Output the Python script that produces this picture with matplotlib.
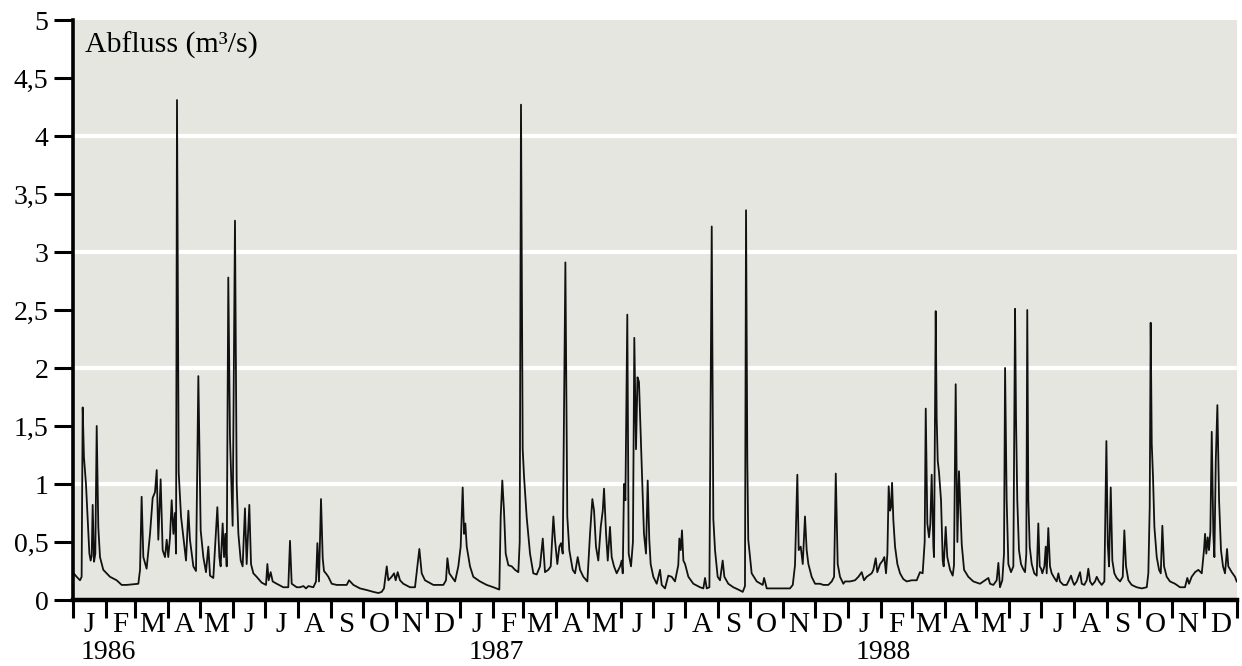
import numpy as np
import pandas as pd
import matplotlib
matplotlib.use("Agg")
import matplotlib.pyplot as plt

# ---------------- data (day index since 1 Jan 1986, discharge m3/s) ----------------
days_1986 = [0, 3.7, 6.9, 8.4, 9.4, 10.6, 12.5, 14.1, 15.7, 16.9, 17.9, 18.8, 20.1, 21.3, 22.6, 24.1,
             25.7, 28.8, 35.1, 41.4, 46.1, 50.8, 61.8, 63.4, 64.9, 66.5, 69.6, 72.8, 75.3, 77.5, 79.1,
             80.6, 82.8, 84.7, 86.9, 88.5, 90.0, 91.6, 93.2, 94.8, 96.3, 97.3, 98.2, 99.8, 102.0, 104.2,
             106.7, 108.9, 110.4, 113.6, 116.1, 118.3, 120.5, 123.0, 125.5, 127.7, 129.3, 132.4, 136.2,
             138.1, 139.3, 141.2, 142.5, 143.7, 145.0, 146.5, 148.1, 150.6, 152.8, 154.4, 156.0, 158.2,
             160.0, 162.2, 163.8, 166.3, 167.9, 170.1, 173.2, 177.9, 182.0, 183.3, 184.5, 186.4, 188.3,
             192.1, 198.3, 203.0, 204.6, 206.2, 210.9, 214.0, 217.2, 219.7, 221.9, 226.6, 229.1, 230.4,
             231.9, 233.8, 235.4, 236.6, 239.2, 240.7, 243.9, 248.6, 258.0, 260.2, 264.3, 270.5, 276.8,
             283.1, 287.8, 290.9, 293.1, 295.7, 297.2, 300.3, 302.6, 304.1, 306.0, 308.2, 311.3, 317.6,
             322.3, 324.5, 326.4, 328.6, 331.7, 339.6, 349.0, 351.5, 352.8, 354.6, 356.9, 360.0, 363.1]
flow_1986 = [0.24, 0.20, 0.17, 0.20, 1.66, 1.23, 1.00, 0.70, 0.40, 0.34, 0.38, 0.82, 0.33, 0.40, 1.50, 0.63,
             0.37, 0.26, 0.20, 0.17, 0.13, 0.13, 0.14, 0.26, 0.89, 0.37, 0.27, 0.57, 0.88, 0.93, 1.12,
             0.52, 1.04, 0.43, 0.37, 0.52, 0.37, 0.54, 0.86, 0.57, 0.75, 0.40, 4.31, 1.10, 0.72, 0.54,
             0.34, 0.77, 0.52, 0.29, 0.25, 1.93, 0.60, 0.37, 0.24, 0.46, 0.21, 0.19, 0.80,
             0.37, 0.29, 0.66, 0.37, 0.57, 0.29, 2.78, 1.40, 0.64, 3.27, 1.00, 0.57, 0.34,
             0.29, 0.79, 0.31, 0.82, 0.31, 0.23, 0.20, 0.15, 0.13, 0.31, 0.17, 0.24, 0.16,
             0.14, 0.11, 0.11, 0.51, 0.14, 0.11, 0.11, 0.12, 0.10, 0.12, 0.11, 0.16, 0.49,
             0.16, 0.87, 0.36, 0.25, 0.22, 0.20, 0.14, 0.13, 0.13, 0.17, 0.13, 0.10, 0.086,
             0.07, 0.06, 0.07, 0.10, 0.29, 0.17, 0.20, 0.23, 0.17, 0.24, 0.17, 0.14, 0.11,
             0.11, 0.29, 0.44, 0.23, 0.17, 0.13, 0.13, 0.17, 0.36, 0.23, 0.20, 0.16, 0.29]

days_1987 = [364.1, 365.3, 367.2, 368.5, 369.7, 371.0, 374.1, 377.2, 383.5, 389.8, 396.1, 401.7, 403.0,
             404.5, 406.1, 407.7, 410.2, 413.4, 416.5, 419.6, 420.9, 422.1, 423.7, 425.0, 427.5, 430.6,
             433.7, 436.9, 440.0, 442.6, 444.7, 447.8, 450.1, 452.6, 454.1, 456.3, 458.2, 459.8, 461.4,
             463.9, 465.7, 467.6, 470.8, 473.0, 475.5, 477.7, 480.8, 484.6, 487.1, 489.3, 490.9, 492.7,
             494.9, 497.2, 499.1, 500.3, 502.2, 503.8, 505.9, 507.5, 509.7, 512.2, 515.4, 516.9, 517.9,
             519.1, 520.4, 522.2, 523.5, 525.7, 527.5, 528.8, 530.4, 531.8, 533.2, 534.5, 535.8, 537.9,
             539.8, 541.4, 542.9, 544.2, 546.7, 549.9, 553.0, 554.6, 557.7, 560.8, 564.0, 567.1, 570.2,
             571.2, 572.5, 573.7, 575.0, 576.6, 579.7, 584.4, 590.7, 593.8, 595.4, 597.0, 599.5, 601.7,
             603.2, 604.8, 607.3, 609.5, 612.0, 613.6, 617.3, 622.0, 626.7, 630.9, 633.0, 634.0, 635.2,
             636.1, 639.3, 644.1, 649.7, 651.0, 653.5, 659.7, 669.1, 675.4, 678.0, 680.1, 682.3, 683.6,
             685.5, 687.4, 689.5, 691.1, 692.7, 695.8, 699.0, 703.7, 706.8, 711.5, 714.7, 716.9, 718.5,
             720.3, 722.5, 725.6]
flow_1987 = [0.37, 0.46, 0.97, 0.57, 0.66, 0.46, 0.29, 0.20, 0.16, 0.13, 0.11, 0.09, 0.72,
             1.03, 0.77, 0.40, 0.30, 0.29, 0.26, 0.24, 0.50, 4.27, 1.30, 1.06, 0.71, 0.40,
             0.23, 0.22, 0.29, 0.53, 0.24, 0.26, 0.29, 0.72, 0.52, 0.31, 0.46, 0.49, 0.40,
             2.91, 0.72, 0.43, 0.26, 0.23, 0.37, 0.26, 0.20, 0.16, 0.57, 0.87, 0.77, 0.46,
             0.34, 0.63, 0.77, 0.96, 0.57, 0.34, 0.63, 0.37, 0.29, 0.23, 0.29, 0.34, 0.23,
             1.00, 0.86, 2.46, 0.40, 0.29, 0.50, 2.26, 1.30, 1.92, 1.88, 1.50, 1.15, 0.57,
             0.40, 1.03, 0.52, 0.31, 0.20, 0.14, 0.26, 0.13, 0.10, 0.21, 0.20, 0.16, 0.30,
             0.53, 0.43, 0.60, 0.34, 0.31, 0.20, 0.14, 0.11, 0.10, 0.19, 0.10, 0.11, 3.22,
             0.70, 0.43, 0.20, 0.17, 0.34, 0.20, 0.14, 0.11, 0.09, 0.07, 0.12, 3.36, 1.20,
             0.52, 0.23, 0.16, 0.13, 0.19, 0.10, 0.10, 0.10, 0.10, 0.13, 0.30, 1.08, 0.43,
             0.46, 0.31, 0.72, 0.43, 0.31, 0.20, 0.14, 0.14, 0.13, 0.13, 0.16, 0.20, 1.09,
             0.31, 0.20, 0.14]

days_1988 = [727.2, 731.9, 736.6, 739.8, 742.9, 745.1, 747.6, 752.3, 753.9, 756.1, 757.6, 760.2, 762.7,
             764.2, 765.8, 767.1, 768.3, 769.6, 770.5, 771.5, 772.7, 774.3, 776.5, 779.0, 782.1, 785.3,
             790.0, 794.7, 797.8, 800.3, 802.2, 803.2, 804.7, 806.3, 807.5, 808.8, 810.4, 811.0, 812.6,
             813.5, 814.5, 815.7, 817.6, 819.2, 820.1, 822.0, 823.5, 826.1, 828.6, 829.8, 831.4, 833.0,
             834.5, 835.5, 837.1, 839.3, 843.3, 848.0, 854.3, 857.5, 862.2, 863.7, 866.9, 870.0, 871.6,
             873.1, 875.3, 876.9, 877.9, 879.4, 881.0, 883.5, 885.7, 887.3, 888.2, 889.4, 891.0, 892.9,
             894.8, 896.7, 897.9, 898.8, 899.8, 901.1, 903.0, 905.4, 907.7, 909.2, 910.5, 911.8, 913.0,
             914.9, 916.2, 917.1, 918.6, 920.2, 921.8, 924.3, 926.5, 928.1, 929.6, 932.8, 935.9, 938.1,
             940.0, 941.6, 943.1, 945.4, 948.5, 950.1, 952.5, 954.8, 956.3, 957.9, 960.0, 962.6, 964.2,
             966.4, 968.9, 971.4, 973.3, 974.6, 975.8, 977.4, 978.9, 980.8, 983.0, 986.2, 988.7, 990.2,
             991.8, 994.0, 997.1, 1001.8, 1006.6, 1011.3, 1012.8, 1014.1, 1015.0, 1016.0, 1017.2, 1018.5,
             1020.7, 1022.9, 1024.5, 1026.0, 1027.6, 1030.1, 1033.2, 1037.9, 1042.6, 1047.3, 1049.5,
             1051.1, 1053.6, 1056.8, 1059.9, 1063.1, 1065.2, 1066.2, 1067.4, 1068.7, 1069.9, 1071.2,
             1072.5, 1074.0, 1075.0, 1076.3, 1077.8, 1079.4, 1081.2, 1083.1, 1085.0, 1086.9, 1088.1,
             1091.3, 1094.4, 1096.0]
flow_1988 = [0.16, 0.16, 0.17, 0.20, 0.24, 0.17, 0.20, 0.23, 0.26, 0.36, 0.24, 0.31, 0.34,
             0.37, 0.23, 0.40, 0.98, 0.77, 0.80, 1.01, 0.69, 0.46, 0.31, 0.23, 0.18, 0.16,
             0.17, 0.17, 0.24, 0.23, 0.50, 1.65, 0.66, 0.54, 0.65, 1.08, 0.46, 0.37, 2.49,
             1.57, 1.20, 1.10, 0.86, 0.34, 0.29, 0.63, 0.37, 0.26, 0.21, 0.30, 1.86, 0.50,
             1.11, 0.86, 0.48, 0.26, 0.20, 0.16, 0.14, 0.16, 0.19, 0.14, 0.13, 0.17, 0.32,
             0.11, 0.17, 0.40, 2.00, 0.86, 0.31, 0.24, 0.29, 2.51, 1.57, 0.86, 0.43, 0.31,
             0.27, 0.24, 0.40, 2.50, 0.86, 0.46, 0.31, 0.23, 0.21, 0.66, 0.29, 0.27, 0.23,
             0.29, 0.46, 0.23, 0.62, 0.29, 0.23, 0.19, 0.16, 0.23, 0.16, 0.13, 0.13, 0.17,
             0.21, 0.16, 0.13, 0.16, 0.24, 0.14, 0.13, 0.17, 0.27, 0.16, 0.13, 0.16, 0.20,
             0.16, 0.13, 0.16, 1.37, 0.48, 0.29, 0.97, 0.34, 0.23, 0.19, 0.16, 0.20, 0.60,
             0.29, 0.17, 0.13, 0.11, 0.10, 0.11, 0.23, 0.80, 2.39, 1.35, 1.06, 0.63,
             0.37, 0.26, 0.23, 0.64, 0.29, 0.20, 0.16, 0.14, 0.11, 0.11, 0.19,
             0.14, 0.20, 0.24, 0.26, 0.23, 0.43, 0.57, 0.40, 0.54, 0.43, 0.59,
             1.45, 0.57, 0.37, 1.20, 1.68, 0.86, 0.43, 0.29, 0.23, 0.44, 0.29,
             0.24, 0.20, 0.16]

month_letters = ["J", "F", "M", "A", "M", "J", "J", "A", "S", "O", "N", "D"]
years = ["1986", "1987", "1988"]
yticks = [0, 0.5, 1, 1.5, 2, 2.5, 3, 3.5, 4, 4.5, 5]
grid_levels = [1, 2, 3, 4]
title = "Abfluss (m³/s)"

# ---------------- figure ----------------
W, H = 1242, 666
plt.rcParams["font.family"] = ["Liberation Serif", "DejaVu Serif"]
fig = plt.figure(figsize=(W / 100, H / 100), dpi=100)
x0, x1, ybot, ytop = 72.7, 1236.7, 600, 20
ax = fig.add_axes([x0 / W, 1 - ybot / H, (x1 - x0) / W, (ybot - ytop) / H])

days = np.array(days_1986 + days_1987 + days_1988)
flow = np.array(flow_1986 + flow_1987 + flow_1988)

start = pd.Timestamp("1986-01-01")
month_starts = pd.date_range("1986-01-01", "1989-01-01", freq="MS")
tick_pos = np.array([(m - start).days for m in month_starts], dtype=float)
tick_pos[-1] = 1096

ax.set_xlim(0, 1096)
ax.set_ylim(0, 5)
ax.set_facecolor("#e6e6e1")
for g in grid_levels:
    ax.axhline(g, color="white", lw=3, zorder=1)
ax.plot(days, flow, color="#111111", lw=1.3, zorder=3)

for s in ["top", "right"]:
    ax.spines[s].set_visible(False)
ax.spines["left"].set_linewidth(2.6)
ax.spines["bottom"].set_linewidth(3.2)
ax.spines["left"].set_zorder(5)
ax.spines["bottom"].set_zorder(5)

ax.set_yticks(yticks)
ax.set_yticklabels([("%g" % v).replace(".", ",") for v in yticks], fontsize=20)
ax.tick_params(axis="y", length=13.5, width=2.2, pad=4, direction="out")
ax.set_xticks(tick_pos)
ax.set_xticklabels([])
ax.tick_params(axis="x", length=13, width=2.2, direction="out")

pt = 72 / 100  # points per pixel
for i in range(36):
    mid = (tick_pos[i] + tick_pos[i + 1]) / 2
    ax.annotate(month_letters[i % 12], xy=(mid, 0), xycoords=("data", "axes fraction"),
                xytext=(0, -32 * pt), textcoords="offset points",
                ha="center", va="baseline", fontsize=21, annotation_clip=False)
for k, yr in enumerate(years):
    ax.annotate(yr, xy=(tick_pos[12 * k], 0), xycoords=("data", "axes fraction"),
                xytext=(8 * pt, -59 * pt), textcoords="offset points",
                ha="left", va="baseline", fontsize=20, annotation_clip=False)

ax.annotate(title, xy=(0, 1), xycoords="axes fraction", xytext=(12 * pt, -33 * pt),
            textcoords="offset points", ha="left", va="baseline", fontsize=21.5)

fig.savefig("out.png", dpi=100, facecolor="white")
